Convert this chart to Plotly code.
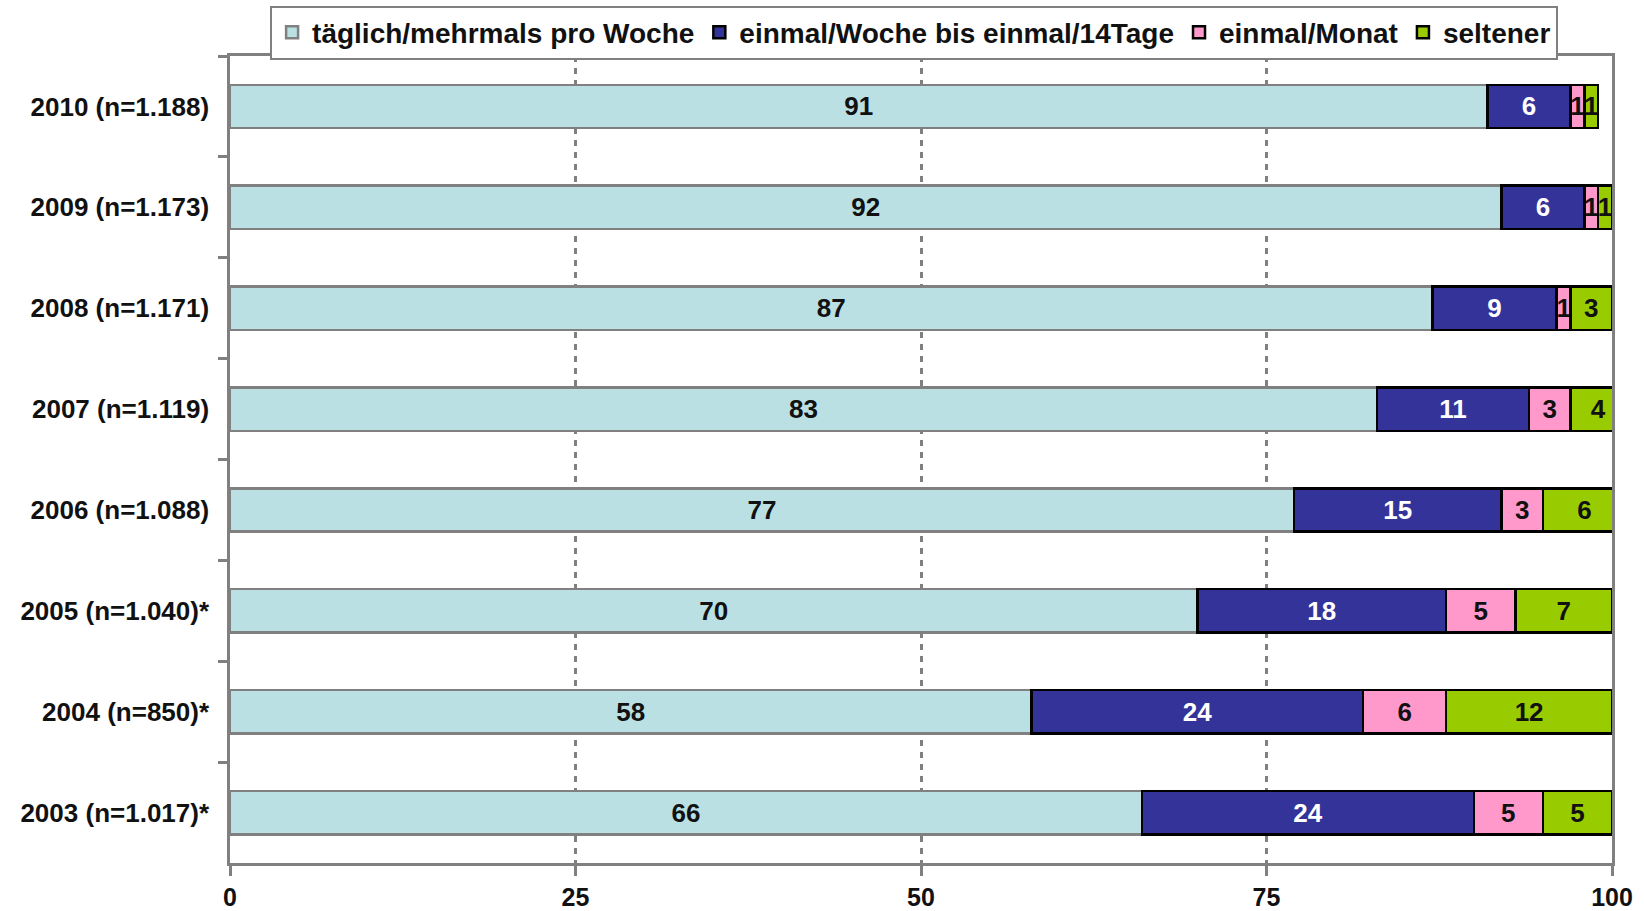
import plotly.graph_objects as go

categories = ["2010 (n=1.188)", "2009 (n=1.173)", "2008 (n=1.171)", "2007 (n=1.119)",
              "2006 (n=1.088)", "2005 (n=1.040)*", "2004 (n=850)*", "2003 (n=1.017)*"]
series_names = ["täglich/mehrmals pro Woche", "einmal/Woche bis einmal/14Tage",
                "einmal/Monat", "seltener"]
daily = [91, 92, 87, 83, 77, 70, 58, 66]
weekly = [6, 6, 9, 11, 15, 18, 24, 24]
monthly = [1, 1, 1, 3, 3, 5, 6, 5]
rarer = [1, 1, 3, 4, 6, 7, 12, 5]
x_ticks = [0, 25, 50, 75, 100]

FONT = "Liberation Sans, Arial, sans-serif"
colors = ["#BAE0E3", "#333399", "#FF99CC", "#99CC00"]
line_colors = ["#808080", "#000000", "#000000", "#000000"]
text_colors = ["#111111", "#FFFFFF", "#111111", "#111111"]

fig = go.Figure()
for name, vals, c, lc, tc in zip(series_names, [daily, weekly, monthly, rarer],
                                 colors, line_colors, text_colors):
    fig.add_trace(go.Bar(
        y=categories, x=vals, name=name, orientation="h",
        marker=dict(color=c, line=dict(color=lc, width=2.5)),
        width=0.43,
        text=vals, texttemplate="%{x}", textposition="inside",
        insidetextanchor="middle", textangle=0, constraintext="none",
        textfont=dict(family=FONT, size=26, color=tc, weight="bold"),
    ))

fig.update_layout(
    width=1644, height=911, autosize=False,
    barmode="stack",
    plot_bgcolor="white", paper_bgcolor="white",
    margin=dict(l=230, r=32, t=56, b=48, autoexpand=False),
    uniformtext=dict(minsize=26, mode="show"),
    font=dict(family=FONT, size=26, color="#111111"),
    showlegend=True,
    legend=dict(
        orientation="h", x=0.495, xanchor="center", y=1.029, yanchor="middle",
        bgcolor="white", bordercolor="#808080", borderwidth=2,
        font=dict(family=FONT, size=28, color="#111111", weight="bold"),
        traceorder="normal", itemwidth=30,
    ),
    xaxis=dict(
        range=[0, 100], tickvals=x_ticks, ticktext=[str(t) for t in x_ticks],
        showgrid=True, gridcolor="#808080", gridwidth=3, griddash="6px,6px",
        zeroline=False, showline=True, linecolor="#808080", linewidth=2.5, mirror=True,
        ticks="outside", ticklen=10, tickwidth=2.5, tickcolor="#808080",
        tickfont=dict(family=FONT, size=25, color="#111111", weight="bold"),
        automargin=False, ticklabelstandoff=0,
    ),
    yaxis=dict(
        categoryorder="array", categoryarray=categories, autorange="reversed",
        showgrid=False, zeroline=False, showline=True, linecolor="#808080",
        linewidth=2.5, mirror=True,
        ticks="outside", tickson="boundaries", ticklen=9, tickwidth=2.5, tickcolor="#808080",
        tickfont=dict(family=FONT, size=26, color="#111111", weight="bold"),
        automargin=False, ticklabelstandoff=13,
    ),
)

fig.write_html("out.html", config={"displayModeBar": False},
               post_script="document.body.style.margin='0';document.body.style.overflow='hidden';")
